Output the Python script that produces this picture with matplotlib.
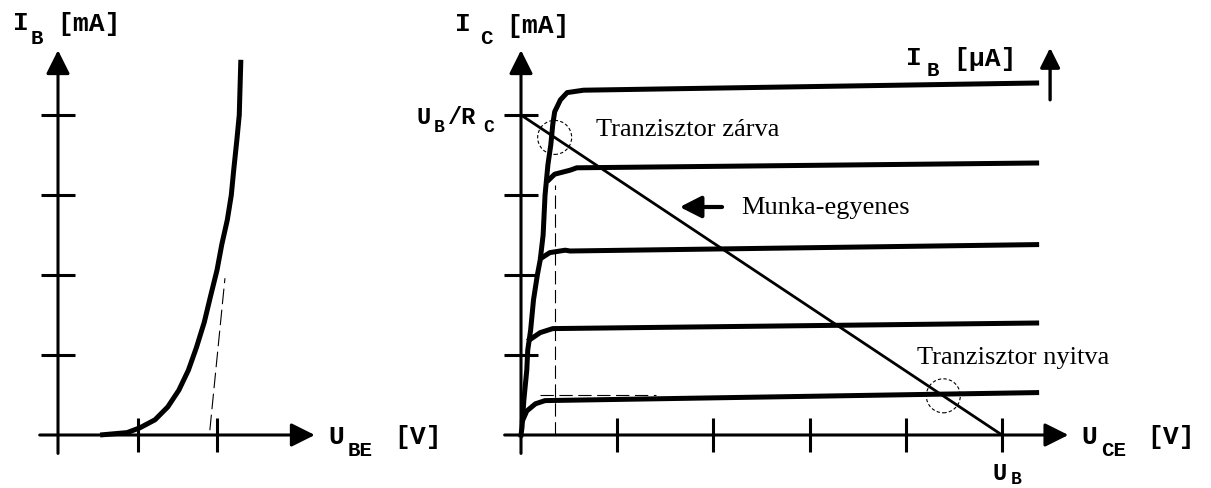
import matplotlib
matplotlib.use("Agg")
import matplotlib.pyplot as plt
from matplotlib.patches import Ellipse

W, H = 1211, 488

# input characteristic I_B(U_BE), units of one tick
ube = [0.53, 0.87, 1.03, 1.22, 1.38, 1.52, 1.64, 1.74, 1.84, 1.92, 2.00, 2.06, 2.13, 2.18, 2.21, 2.25, 2.28, 2.29, 2.30]
ib = [0.0, 0.03, 0.09, 0.19, 0.35, 0.56, 0.81, 1.09, 1.41, 1.74, 2.06, 2.38, 2.69, 3.00, 3.31, 3.69, 4.00, 4.35, 4.69]
tangent_u = [1.91, 2.10]
tangent_i = [0.06, 1.96]

# output characteristics I_C(U_CE): common saturation edge + top curve
sat_u = [0.0, 0.01, 0.03, 0.06, 0.07, 0.10, 0.13, 0.17, 0.20, 0.23, 0.25, 0.28, 0.31, 0.33, 0.35, 0.41, 0.48, 0.65, 5.36]
sat_i = [0.0, 0.09, 0.44, 0.81, 1.06, 1.31, 1.69, 2.00, 2.19, 2.50, 3.00, 3.38, 3.63, 3.88, 4.04, 4.19, 4.28, 4.31, 4.40]
# lower curves branching off the saturation edge
branch_u = [
    [0.29, 0.35, 0.51, 0.58, 5.36],
    [0.21, 0.30, 0.46, 0.51, 5.36],
    [0.09, 0.20, 0.33, 5.36],
    [0.02, 0.06, 0.15, 0.25, 5.36],
]
branch_i = [
    [3.19, 3.26, 3.31, 3.34, 3.40],
    [2.21, 2.28, 2.31, 2.30, 2.38],
    [1.19, 1.28, 1.33, 1.40],
    [0.19, 0.30, 0.39, 0.43, 0.53],
]
# load line between U_B/R_C and U_B
load_u = [0.0, 5.0]
load_i = [4.0, 0.0]
# operating points (closed / open)
op_u = [0.35, 4.39]
op_i = [3.72, 0.49]


def place(ax, x0, y0, ux, uy, box):
    l, t, r, b = box
    ax.set_position([l / W, 1 - b / H, (r - l) / W, (b - t) / H])
    ax.set_xlim((l - x0) / ux, (r - x0) / ux)
    ax.set_ylim((y0 - b) / uy, (y0 - t) / uy)


def axes_arrows(ax, x_from, x_to, y_from, y_to):
    ap = dict(arrowstyle='-|>,head_length=0.72,head_width=0.36', lw=2.2,
              color='k', shrinkA=0, shrinkB=0, mutation_scale=20)
    ax.annotate('', xy=(x_to, 0), xytext=(x_from, 0), arrowprops=ap, annotation_clip=False)
    ax.annotate('', xy=(0, y_to), xytext=(0, y_from), arrowprops=ap, annotation_clip=False)
    for s in ['top', 'right']:
        ax.spines[s].set_visible(False)
    for s in ['left', 'bottom']:
        ax.spines[s].set_position(('data', 0))
        ax.spines[s].set_visible(False)
    ax.tick_params(direction='inout', length=24.5, width=2.2, color='k',
                   labelleft=False, labelbottom=False)
    ax.set_yticks([1, 2, 3, 4])
    ax.patch.set_visible(False)


fig = plt.figure(figsize=(W / 100, H / 100), dpi=100)
axl = fig.add_axes([0, 0, 1, 1])
axr = fig.add_axes([0, 0, 1, 1])
place(axl, 58, 435, 79.5, 80, (0, 0, 420, 488))
place(axr, 521, 435, 96.2, 80, (430, 0, 1211, 488))

axes_arrows(axl, -0.23, 3.23, -0.23, 4.81)
axl.set_xticks([1, 2])
axes_arrows(axr, -0.17, 5.69, -0.23, 4.81)
axr.set_xticks([1, 2, 3, 4, 5])

axl.plot(ube, ib, color='k', lw=3.6, solid_capstyle='butt', solid_joinstyle='round')
axl.plot(tangent_u, tangent_i, color='k', lw=0.8, ls=(0, (14, 5)))

axr.plot(sat_u, sat_i, color='k', lw=3.6, solid_joinstyle='round')
for bu, bi in zip(branch_u, branch_i):
    axr.plot(bu, bi, color='k', lw=3.6, solid_joinstyle='round')
axr.plot(load_u, load_i, color='k', lw=2.0)
axr.plot([op_u[0], op_u[0]], [0, 3.13], color='k', lw=0.8, ls=(0, (12, 5)))
axr.plot([0.2, 1.4], [0.5, 0.5], color='k', lw=0.8, ls=(0, (12, 5)))
for u, i in zip(op_u, op_i):
    axr.add_patch(Ellipse((u, i), 34 / 96.2, 34 / 80, fill=False, lw=0.8,
                          ls=(0, (3, 2)), ec='k'))

# arrow pointing at the load line, and the I_B direction arrow
axr.annotate('', xy=(1.65, 2.85), xytext=(2.09, 2.85), annotation_clip=False,
             arrowprops=dict(arrowstyle='-|>,head_length=0.65,head_width=0.33',
                             lw=3, color='k', shrinkA=0, shrinkB=0, mutation_scale=20))
axr.annotate('', xy=(5.50, 4.84), xytext=(5.50, 4.19), annotation_clip=False,
             arrowprops=dict(arrowstyle='-|>,head_length=0.6,head_width=0.3',
                             lw=2.4, color='k', shrinkA=0, shrinkB=0, mutation_scale=20))


def ftxt(x, y, s, size=19, **kw):
    fig.text(x / W, 1 - y / H, s, fontsize=size, **kw)


mono = dict(family='Liberation Mono', weight='bold', va='center', ha='left')
serif = dict(family='Liberation Serif', va='center', ha='left')

# axis labels: main letter, subscript, unit
ftxt(13, 23, 'I', **mono)
ftxt(31, 38, 'B', size=15, **mono)
ftxt(57, 24, '[mA]', **mono)

ftxt(455, 24, 'I', **mono)
ftxt(480, 38, 'C', size=15, **mono)
ftxt(506, 26, '[mA]', **mono)

ftxt(328, 437, 'U', **mono)
ftxt(348, 450, 'BE', size=15, **mono)
ftxt(394, 437, '[V]', **mono)

ftxt(1081, 437, 'U', **mono)
ftxt(1101, 451, 'CE', size=15, **mono)
ftxt(1147, 437, '[V]', **mono)

ftxt(906, 58, 'I', **mono)
ftxt(927, 71, 'B', size=15, **mono)
ftxt(953, 59, '[μA]', **mono)

ftxt(993, 474, 'U', size=17, **mono)
ftxt(1011, 480, 'B', size=13, **mono)

ftxt(416, 117, 'U', size=17, **mono)
ftxt(434, 127, 'B', size=13, **mono)
ftxt(448, 117, '/R', size=17, **mono)
ftxt(483, 127, 'C', size=13, **mono)

ftxt(596, 130, 'Tranzisztor zárva', **serif)
ftxt(741, 208, 'Munka-egyenes', **serif)
ftxt(917, 358, 'Tranzisztor nyitva', **serif)

fig.savefig('out.png', dpi=100, facecolor='white')
